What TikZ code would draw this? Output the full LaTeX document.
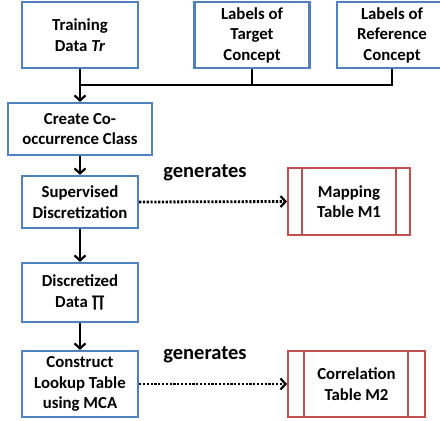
\documentclass[tikz,border=0pt]{standalone}
\usepackage{fontspec}
\setmainfont{Carlito}
\usetikzlibrary{arrows.meta}
\definecolor{boxblue}{RGB}{79,129,189}
\definecolor{boxred}{RGB}{192,80,77}
\begin{document}
\begin{tikzpicture}[x=1pt,y=-1pt,
  box/.style={draw=boxblue,line width=2.2pt,fill=white,align=center,inner sep=0pt,font=\bfseries\fontsize{16.8}{20.5}\selectfont},
  tablebox/.style={draw=boxred,line width=2pt,fill=white,align=center,inner sep=0pt,font=\bfseries\fontsize{16.8}{20.5}\selectfont},
  flow/.style={line width=2.4pt,-{Straight Barb[length=5pt,width=11pt,line width=2.2pt]}},
  gen/.style={line width=2.8pt,dash pattern=on 2.2pt off 1.6pt,-{Straight Barb[length=5pt,width=11pt,line width=2.2pt]}},
  genlabel/.style={font=\bfseries\fontsize{20.5}{24}\selectfont}]
\useasboundingbox (0,0) rectangle (440,421);
\node[box,minimum width=116pt,minimum height=66pt] (tr) at (80,35) {Training\\Data \textit{Tr}};
\node[box,minimum width=115pt,minimum height=66pt] (tgt) at (252,35) {Labels of\\Target\\Concept};
\node[box,minimum width=110pt,minimum height=66pt] (ref) at (392,35) {Labels of\\Reference\\Concept};
\node[box,minimum width=144pt,minimum height=52pt] (cooc) at (80,129) {Create Co-\\occurrence Class};
\node[box,minimum width=116pt,minimum height=52pt] (sup) at (80,202) {Supervised\\Discretization};
\node[box,minimum width=116pt,minimum height=59pt] (disc) at (80,292.5) {Discretized\\Data ∏};
\node[box,minimum width=116pt,minimum height=66pt] (mca) at (80,384) {Construct\\Lookup Table\\using MCA};
\node[tablebox,minimum width=122pt,minimum height=67pt] (m1) at (349,201.5) {Mapping\\Table M1};
\node[tablebox,minimum width=137pt,minimum height=66pt] (m2) at (356.5,384) {Correlation\\Table M2};
\draw[boxred,line width=2pt] ([xshift=15pt]m1.north west) -- ([xshift=15pt]m1.south west);
\draw[boxred,line width=2pt] ([xshift=-15pt]m1.north east) -- ([xshift=-15pt]m1.south east);
\draw[boxred,line width=2pt] ([xshift=17pt]m2.north west) -- ([xshift=17pt]m2.south west);
\draw[boxred,line width=2pt] ([xshift=-18pt]m2.north east) -- ([xshift=-18pt]m2.south east);
\coordinate (bus) at (80,85);
\draw[line width=2.4pt] (ref.south) |- (bus);
\draw[line width=2.4pt] (tgt.south) |- (bus);
\draw[flow] (tr.south) -- (cooc.north);
\draw[flow] (cooc.south) -- (sup.north);
\draw[flow] (sup.south) -- (disc.north);
\draw[flow] (disc.south) -- (mca.north);
\draw[gen] (sup.east) -- (m1.west);
\draw[gen] (mca.east) -- (m2.west);
\node[genlabel] (g1) at (205,173) {generates};
\node[genlabel] (g2) at (205,355) {generates};
\end{tikzpicture}
\end{document}
